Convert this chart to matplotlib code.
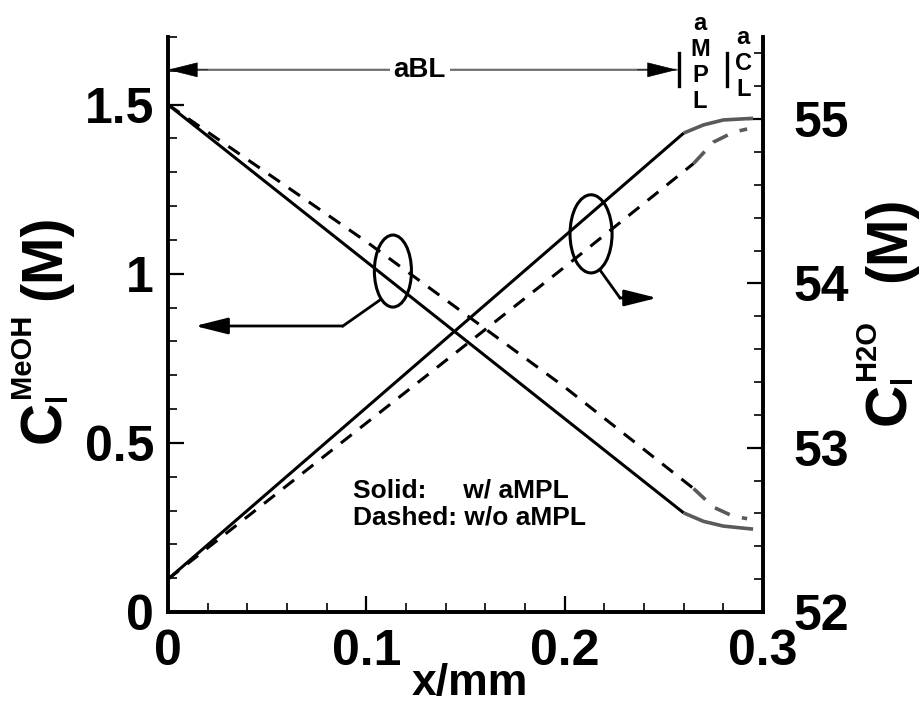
import numpy as np
import matplotlib
matplotlib.use('Agg')
import matplotlib.pyplot as plt
from matplotlib.patches import Ellipse
from matplotlib.ticker import MultipleLocator, FuncFormatter

# with aMPL (solid): bulk layer is black, the catalyst-layer part is grey
x_sol = [0.0, 0.26, 0.27, 0.28, 0.295]
meoh_sol = [1.50, 0.293, 0.268, 0.254, 0.245]
h2o_sol = [52.2, 54.915, 54.965, 54.995, 55.005]
n_sol = 2      # points in the black part

# without aMPL (dashed)
x_dash = [0.0, 0.1, 0.2, 0.265, 0.275, 0.285, 0.292]
meoh_dash = [1.50, 1.095, 0.665, 0.365, 0.31, 0.283, 0.276]
h2o_dash = [52.2, 53.15, 54.1, 54.73, 54.86, 54.92, 54.94]
n_dash = 4

x_ticks = [0, 0.1, 0.2, 0.3]
meoh_ticks = [0, 0.5, 1, 1.5]
h2o_ticks = [52, 53, 54, 55]

grey = '#5a5a5a'
lw = 2.2
dash = (4.5, 3.5)
W, H = 921, 708

plt.rcParams['font.family'] = ['Liberation Sans', 'DejaVu Sans']
plt.rcParams['font.weight'] = 'bold'

fig = plt.figure(figsize=(W/100, H/100), dpi=100)
ax = fig.add_axes([168/W, 96/H, 595/W, 575/H])
ax2 = ax.twinx()

# MeOH on the left axis
ax.plot(x_sol[:n_sol], meoh_sol[:n_sol], color='k', lw=lw, solid_capstyle='butt')
ax.plot(x_sol[n_sol-1:], meoh_sol[n_sol-1:], color=grey, lw=lw+0.4, solid_capstyle='butt')
ax.plot(x_dash[:n_dash], meoh_dash[:n_dash], color='k', lw=lw, dashes=dash)
ax.plot(x_dash[n_dash-1:], meoh_dash[n_dash-1:], color=grey, lw=lw+0.4, dashes=dash)

# H2O on the right axis
ax2.plot(x_sol[:n_sol], h2o_sol[:n_sol], color='k', lw=lw, solid_capstyle='butt')
ax2.plot(x_sol[n_sol-1:], h2o_sol[n_sol-1:], color=grey, lw=lw+0.4, solid_capstyle='butt')
ax2.plot(x_dash[:n_dash], h2o_dash[:n_dash], color='k', lw=lw, dashes=dash)
ax2.plot(x_dash[n_dash-1:], h2o_dash[n_dash-1:], color=grey, lw=lw+0.4, dashes=dash)

ax.set_xlim(0, 0.3)
ax.set_ylim(0, 1.7)
ax2.set_ylim(52, 55.5)

for a in (ax, ax2):
    a.spines['top'].set_visible(False)
    for s in a.spines.values():
        s.set_linewidth(2.6)
    a.tick_params(which='major', direction='in', length=11.5, width=1.6, labelsize=36)
    a.tick_params(which='minor', direction='in', length=6.5, width=1.2)

ax.set_xticks(x_ticks)
ax.set_yticks(meoh_ticks)
ax2.set_yticks(h2o_ticks)
ax.xaxis.set_minor_locator(MultipleLocator(0.02))
ax.yaxis.set_minor_locator(MultipleLocator(0.1))
ax2.yaxis.set_minor_locator(MultipleLocator(0.2))
fmt = FuncFormatter(lambda v, p: '%g' % v)
ax.xaxis.set_major_formatter(fmt)
ax.yaxis.set_major_formatter(fmt)
ax2.yaxis.set_major_formatter(fmt)
ax.tick_params(axis='x', pad=12)
ax.tick_params(axis='y', pad=10)
ax2.tick_params(axis='y', pad=22)

fig.text(470/W, 1 - 684/H, 'x/mm', fontsize=32, ha='center', va='center')


def ylabel(sup, cx, cy):
    # Tecplot style C_l^sup (M), rotated; positions in image pixels (y down)
    kw = dict(rotation=90, rotation_mode='anchor', ha='left', va='baseline')
    fig.text(cx/W, 1 - cy/H, 'C', fontsize=42, **kw)
    fig.text((cx + 6)/W, 1 - (cy - 42)/H, 'l', fontsize=21, **kw)
    fig.text((cx - 30)/W, 1 - (cy - 45)/H, sup, fontsize=21, **kw)
    fig.text(cx/W, 1 - (cy - 143)/H, '(M)', fontsize=41, **kw)


ylabel('MeOH', 60, 443)
ylabel('H2O', 905, 425)

# boundary-layer arrow and the layer names along the top
ax.annotate('', xy=(0.0, 1.603), xytext=(0.2566, 1.603),
            arrowprops=dict(arrowstyle='-', color='#707070', lw=1.6,
                            shrinkA=0, shrinkB=0), annotation_clip=False)
for tip, tail in [(0.0, 0.02), (0.2566, 0.2366)]:
    ax.annotate('', xy=(tip, 1.603), xytext=(tail, 1.603),
                arrowprops=dict(arrowstyle='-|>,head_length=1.0,head_width=0.25',
                                mutation_scale=20, color='k', lw=0.5,
                                shrinkA=0, shrinkB=0), annotation_clip=False)
ax.text(0.127, 1.603, 'aBL', fontsize=20, ha='center', va='center',
        bbox=dict(facecolor='white', edgecolor='none', pad=3))
ax.plot([0.2577, 0.2577], [1.555, 1.653], color='k', lw=2.4, clip_on=False)
ax.plot([0.2818, 0.2818], [1.555, 1.653], color='k', lw=2.4, clip_on=False)
ax.text(0.2682, 1.625, 'a\nM\nP\nL', fontsize=17, ha='center', va='center',
        linespacing=1.16)
ax.text(0.290, 1.622, 'a\nC\nL', fontsize=17, ha='center', va='center',
        linespacing=1.16)

# ellipses with pointer arrows to the axes
ax.add_patch(Ellipse((0.1134, 1.008), 0.0187, 0.213, fill=False, lw=2.2, color='k'))
ax.add_patch(Ellipse((0.2133, 1.118), 0.0212, 0.231, fill=False, lw=2.2, color='k'))
ax.plot([0.1069, 0.0882], [0.9225, 0.8456], color='k', lw=2.0)
ax.annotate('', xy=(0.0136, 0.8456), xytext=(0.0882, 0.8456),
            arrowprops=dict(arrowstyle='-|>,head_length=1.0,head_width=0.25',
                            mutation_scale=20, color='k', lw=2.0,
                            shrinkA=0, shrinkB=0))
ax.plot([0.2178, 0.2279], [1.011, 0.9285], color='k', lw=2.0)
ax.annotate('', xy=(0.2466, 0.9285), xytext=(0.2279, 0.9285),
            arrowprops=dict(arrowstyle='-|>,head_length=1.0,head_width=0.25',
                            mutation_scale=20, color='k', lw=2.0,
                            shrinkA=0, shrinkB=0))

ax.text(0.0935, 0.36, 'Solid:     w/ aMPL', fontsize=19, ha='left', va='center')
ax.text(0.0935, 0.28, 'Dashed: w/o aMPL', fontsize=19, ha='left', va='center')

fig.savefig('out.png', dpi=100)
